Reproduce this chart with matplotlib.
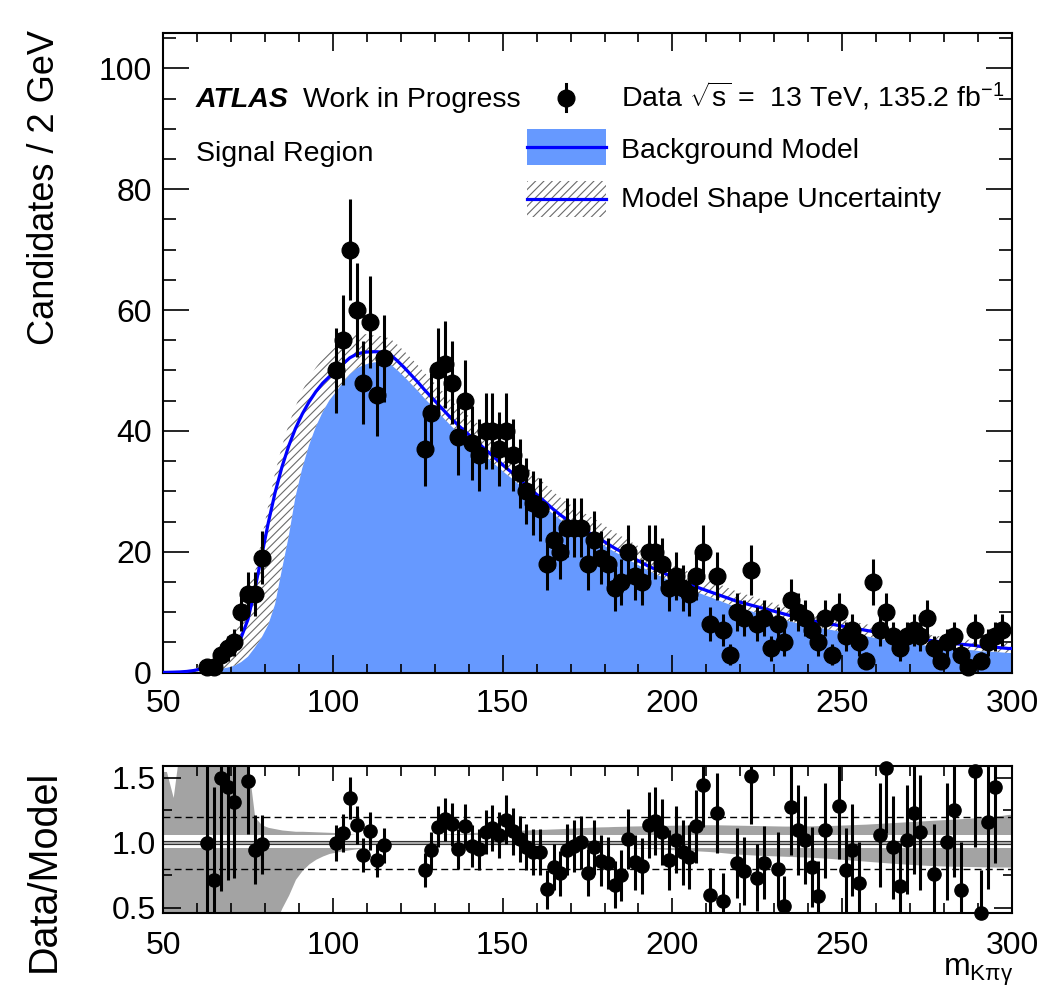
import numpy as np
import matplotlib
matplotlib.use("Agg")
import matplotlib.pyplot as plt
from matplotlib.patches import Rectangle
from matplotlib.lines import Line2D
from matplotlib.ticker import MultipleLocator, FormatStrFormatter

# ------------------------------------------------------------
# data: 2 GeV bins from 50 to 300 GeV
# ------------------------------------------------------------
bin_centers = np.arange(51, 300, 2)

# fitted background model per bin (candidates / 2 GeV)
model = [0.05, 0.08, 0.12, 0.2, 0.35, 0.6, 1.0, 1.4, 2.0, 2.8,
         3.8, 5.8, 8.8, 13.7, 19.2, 24.8, 29.8, 34.0, 37.5, 40.4,
         42.8, 44.8, 46.5, 47.9, 49.0, 50.0, 51.1, 52.1, 52.7, 53.0,
         53.1, 53.1, 53.0, 52.6, 51.6, 50.5, 49.3, 48.1, 46.8, 45.6,
         44.4, 43.2, 42.0, 40.9, 39.9, 38.9, 37.9, 36.9, 35.9, 34.9,
         33.9, 33.0, 32.0, 31.0, 30.0, 29.0, 28.0, 27.0, 26.1, 25.3,
         24.6, 23.9, 23.3, 22.7, 22.0, 21.3, 20.6, 20.0, 19.4, 18.8,
         18.2, 17.6, 17.1, 16.6, 16.1, 15.6, 15.1, 14.6, 14.2, 13.8,
         13.4, 13.0, 12.6, 12.2, 11.8, 11.5, 11.2, 10.9, 10.6, 10.3,
         10.0, 9.7, 9.4, 9.1, 8.8, 8.6, 8.4, 8.2, 8.0, 7.8,
         7.6, 7.4, 7.2, 7.0, 6.8, 6.6, 6.35, 6.2, 6.0, 5.85,
         5.7, 5.55, 5.4, 5.25, 5.1, 4.95, 4.8, 4.7, 4.6, 4.5,
         4.3, 4.3, 4.2, 4.1, 4.0]

# shape uncertainty envelope, relative to the model
band_hi = [1.55, 1.35, 1.75, 1.65, 1.65, 1.64, 1.64, 1.63, 1.63, 1.63,
           1.62, 1.62, 1.62, 1.2, 1.14, 1.12, 1.11, 1.1, 1.095, 1.09,
           1.09, 1.088, 1.086, 1.084, 1.082, 1.08, 1.076, 1.07, 1.064, 1.058,
           1.052, 1.05, 1.05, 1.05, 1.052, 1.054, 1.056, 1.058, 1.06, 1.063,
           1.066, 1.068, 1.07, 1.073, 1.076, 1.08, 1.083, 1.086, 1.088, 1.09,
           1.093, 1.096, 1.098, 1.1, 1.102, 1.104, 1.106, 1.108, 1.11, 1.113,
           1.115, 1.118, 1.12, 1.122, 1.124, 1.125, 1.127, 1.128, 1.13, 1.131,
           1.132, 1.133, 1.134, 1.135, 1.136, 1.137, 1.138, 1.138, 1.139, 1.14,
           1.14, 1.14, 1.139, 1.138, 1.137, 1.136, 1.135, 1.134, 1.133, 1.132,
           1.131, 1.13, 1.13, 1.13, 1.131, 1.132, 1.133, 1.134, 1.135, 1.137,
           1.139, 1.141, 1.143, 1.145, 1.148, 1.151, 1.154, 1.157, 1.16, 1.163,
           1.166, 1.169, 1.172, 1.175, 1.178, 1.181, 1.184, 1.187, 1.19, 1.194,
           1.198, 1.202, 1.207, 1.212, 1.22]
band_lo = [0.3, 0.3, 0.3, 0.3, 0.3, 0.3, 0.3, 0.3, 0.3, 0.3,
           0.3, 0.3, 0.3, 0.3, 0.3, 0.32, 0.38, 0.5, 0.6, 0.72,
           0.79, 0.84, 0.875, 0.9, 0.92, 0.93, 0.94, 0.948, 0.955, 0.96,
           0.965, 0.968, 0.97, 0.97, 0.97, 0.97, 0.97, 0.97, 0.97, 0.97,
           0.97, 0.97, 0.97, 0.97, 0.97, 0.97, 0.97, 0.97, 0.97, 0.97,
           0.97, 0.97, 0.97, 0.97, 0.97, 0.97, 0.97, 0.97, 0.97, 0.97,
           0.97, 0.97, 0.97, 0.97, 0.97, 0.97, 0.97, 0.97, 0.965, 0.963,
           0.96, 0.958, 0.955, 0.953, 0.95, 0.948, 0.945, 0.943, 0.94, 0.937,
           0.934, 0.93, 0.925, 0.92, 0.915, 0.912, 0.909, 0.906, 0.904, 0.902,
           0.9, 0.898, 0.896, 0.894, 0.892, 0.89, 0.887, 0.884, 0.88, 0.876,
           0.872, 0.868, 0.864, 0.86, 0.856, 0.852, 0.848, 0.844, 0.84, 0.837,
           0.834, 0.831, 0.828, 0.826, 0.824, 0.822, 0.821, 0.82, 0.819, 0.818,
           0.817, 0.816, 0.815, 0.815, 0.815]

# observed candidates (bins outside the blinded windows)
data_mass = [63, 65, 67, 69, 71, 73, 75, 77, 79,
             101, 103, 105, 107, 109, 111, 113, 115,
             127, 129, 131, 133, 135, 137, 139, 141, 143, 145,
             147, 149, 151, 153, 155, 157, 159, 161, 163, 165,
             167, 169, 171, 173, 175, 177, 179, 181, 183, 185,
             187, 189, 191, 193, 195, 197, 199, 201, 203, 205,
             207, 209, 211, 213, 215, 217, 219, 221, 223, 225,
             227, 229, 231, 233, 235, 237, 239, 241, 243, 245,
             247, 249, 251, 253, 255, 257, 259, 261, 263, 265,
             267, 269, 271, 273, 275, 277, 279, 281, 283, 285,
             287, 289, 291, 293, 295, 297]
data_counts = [1, 1, 3, 4, 5, 10, 13, 13, 19,
               50, 55, 70, 60, 48, 58, 46, 52,
               37, 43, 50, 51, 48, 39, 45, 38, 36, 40,
               40, 37, 40, 36, 33, 30, 28, 27, 18, 22,
               20, 24, 24, 24, 18, 22, 19, 18, 14, 15,
               20, 16, 15, 20, 20, 18, 14, 16, 14, 13,
               16, 20, 8, 16, 7, 3, 10, 9, 17, 8,
               9, 4, 8, 5, 12, 10, 9, 7, 5, 9,
               3, 10, 6, 7, 5, 2, 15, 7, 10, 6,
               4, 6, 7, 6, 9, 4, 2, 5, 6, 3,
               1, 7, 2, 5, 6, 7]

BLUE_FILL = "#6699ff"
BLUE_LINE = "#0000ff"
HATCH_GREY = "#6a6a6a"

plt.rcParams["font.family"] = ["Liberation Sans", "DejaVu Sans"]
plt.rcParams["mathtext.fontset"] = "custom"
plt.rcParams["mathtext.rm"] = "Liberation Sans"
plt.rcParams["mathtext.it"] = "Liberation Sans:italic"
plt.rcParams["mathtext.bf"] = "Liberation Sans:bold"
plt.rcParams["hatch.linewidth"] = 0.8

W, H = 1043, 993


def fx(px):
    return px / W


def fy(py):
    return 1 - py / H


fig = plt.figure(figsize=(W / 100, H / 100), dpi=100)
ax = fig.add_axes([0.1563, 0.3226, 0.8140, 0.6445])
rax = fig.add_axes([0.1563, 0.0809, 0.8140, 0.1477])

model = np.array(model)
band_hi = np.array(band_hi)
band_lo = np.array(band_lo)
data_mass = np.array(data_mass)
data_counts = np.array(data_counts, dtype=float)

# stretch the curves over the full axis range by repeating the end bins
x_ext = np.r_[50, bin_centers, 300]


def pad(v):
    return np.r_[v[0], v, v[-1]]


model_ext = pad(model)
hi_ext = model_ext * pad(band_hi)
lo_ext = model_ext * pad(band_lo)

# ---------------- main panel ----------------
ax.fill_between(x_ext, 0, model_ext, color=BLUE_FILL, lw=0, zorder=1)
ax.fill_between(x_ext, lo_ext, hi_ext, facecolor="white", edgecolor=HATCH_GREY,
                hatch="////", lw=0, zorder=2)
ax.plot(x_ext, model_ext, color=BLUE_LINE, lw=2.3, zorder=3)

ax.errorbar(data_mass, data_counts, yerr=np.sqrt(data_counts), fmt="none",
            ecolor="black", elinewidth=2.2, capsize=0, zorder=4)
ax.plot(data_mass, data_counts, "o", color="black", ms=12, zorder=5, clip_on=False)

ax.set_xlim(50, 300)
ax.set_ylim(0, 105.9)

# ---------------- ratio panel ----------------
idx = (data_mass - 51) // 2
ratio = data_counts / model[idx]
ratio_err = np.sqrt(data_counts) / model[idx]
r_lo, r_hi = 0.464, 1.592
shown = (ratio >= r_lo) & (ratio <= r_hi)

rax.fill_between(x_ext, pad(band_lo), pad(band_hi), color="#a3a3a3", lw=0, zorder=1)
rax.axhspan(0.965, 1.065, color="white", lw=0, zorder=1.5)
for lvl in (0.8, 1.2):
    rax.axhline(lvl, color="black", lw=1.0, ls=(0, (5, 3)), zorder=2)
rax.axhline(1.0, color="#333333", lw=3.0, zorder=2.2)
rax.axhline(1.0, color="#c0c0c0", lw=1.2, zorder=2.3)

rax.errorbar(data_mass[shown], ratio[shown], yerr=ratio_err[shown], fmt="none",
             ecolor="black", elinewidth=2.2, capsize=0, zorder=4)
rax.plot(data_mass[shown], ratio[shown], "o", color="black", ms=9.5, zorder=5,
         clip_on=False)

rax.set_xlim(50, 300)
rax.set_ylim(r_lo, r_hi)

# ---------------- axes styling ----------------
for a in (ax, rax):
    a.xaxis.set_major_locator(MultipleLocator(50))
    a.xaxis.set_minor_locator(MultipleLocator(10))
    a.tick_params(which="both", direction="in", top=True, right=True,
                  width=1.2, labelsize=23)
    for s in a.spines.values():
        s.set_linewidth(1.5)

ax.yaxis.set_major_locator(MultipleLocator(20))
ax.yaxis.set_minor_locator(MultipleLocator(5))
ax.tick_params(axis="x", which="major", length=13, pad=12)
ax.tick_params(axis="x", which="minor", length=6.5)
ax.tick_params(axis="y", which="major", length=19, pad=8)
ax.tick_params(axis="y", which="minor", length=9.5)

rax.yaxis.set_major_locator(MultipleLocator(0.5))
rax.yaxis.set_minor_locator(MultipleLocator(0.25))
rax.yaxis.set_major_formatter(FormatStrFormatter("%.1f"))
rax.tick_params(axis="x", which="major", length=11, pad=13)
rax.tick_params(axis="x", which="minor", length=7)
rax.tick_params(axis="y", which="major", length=13, pad=5)
rax.tick_params(axis="y", which="minor", length=6.5)

# axis titles
fig.text(fx(45), fy(30), "Candidates / 2 GeV", rotation=90, ha="center",
         va="top", fontsize=26)
fig.text(fx(44), fy(871), "Data/Model", rotation=90, ha="center",
         va="center", fontsize=28.5)
fig.text(fx(943), fy(976), r"m$_{\mathrm{K\pi\gamma}}$", ha="left",
         va="baseline", fontsize=23)

# ---------------- labels and legend ----------------
TXT = 20.5
fig.text(fx(196), fy(107), "ATLAS", fontsize=TXT, fontweight="bold",
         fontstyle="italic", va="baseline")
fig.text(fx(303), fy(107), "Work in Progress", fontsize=TXT, va="baseline")
fig.text(fx(196), fy(161), "Signal Region", fontsize=TXT, va="baseline")

# data entry
fig.add_artist(Line2D([fx(566), fx(566)], [fy(84), fy(111)], color="black",
                      lw=2.2, transform=fig.transFigure))
fig.add_artist(Line2D([fx(566)], [fy(97.5)], marker="o", color="black", ms=12,
                      transform=fig.transFigure))
fig.text(fx(621), fy(107), r"Data $\sqrt{\mathrm{s}}$ =  13 TeV, 135.2 fb$^{-1}$",
         fontsize=TXT, va="baseline")

# background model entry
fig.add_artist(Rectangle((fx(527), fy(165)), (606 - 527) / W, (165 - 129) / H,
                         facecolor=BLUE_FILL, lw=0, transform=fig.transFigure))
fig.add_artist(Line2D([fx(527), fx(606)], [fy(147), fy(147)], color=BLUE_LINE,
                      lw=2.3, transform=fig.transFigure))
fig.text(fx(621), fy(158), "Background Model", fontsize=TXT, va="baseline")

# shape uncertainty entry
fig.add_artist(Rectangle((fx(527), fy(217)), (606 - 527) / W, (217 - 181) / H,
                         facecolor="white", edgecolor=HATCH_GREY, hatch="////",
                         lw=0, transform=fig.transFigure))
fig.add_artist(Line2D([fx(527), fx(606)], [fy(199), fy(199)], color=BLUE_LINE,
                      lw=2.3, transform=fig.transFigure))
fig.text(fx(621), fy(207), "Model Shape Uncertainty", fontsize=TXT, va="baseline")

fig.savefig("out.png", dpi=100)
